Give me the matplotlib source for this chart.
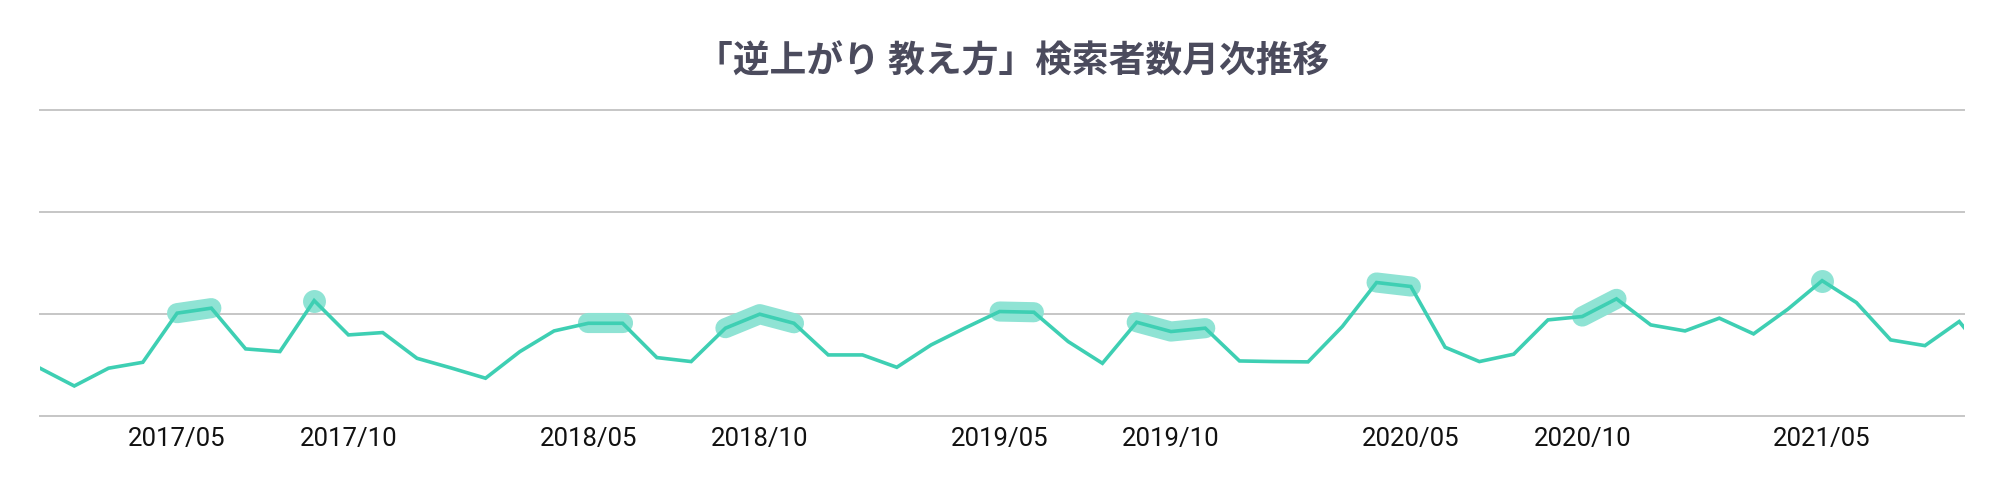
import numpy as np
import pandas as pd
import matplotlib
matplotlib.use('Agg')
import matplotlib.pyplot as plt

# monthly searcher counts (relative units), starting 2017/01
start_month = '2017-01'
values = [46.8, 29.4, 46.8, 52.6, 100.7, 105.6, 65.7, 63.1, 113.0, 79.4,
          81.7, 56.5, 47.0, 37.0, 63.0, 83.3, 90.8, 90.8, 57.2, 53.3,
          86.0, 99.7, 90.8, 59.8, 59.8, 47.7, 69.6, 86.3, 102.3, 101.6,
          72.9, 51.6, 91.8, 82.7, 86.0, 53.9, 53.3, 53.0, 87.6, 130.7,
          126.8, 67.3, 53.3, 60.5, 94.1, 97.4, 114.7, 89.2, 83.3, 95.8,
          80.4, 104.6, 132.5, 111.1, 74.5, 68.9, 92.5, 52.0]
shown_labels = ['2017/05', '2017/10', '2018/05', '2018/10', '2019/05',
                '2019/10', '2020/05', '2020/10', '2021/05']
# highlighted stretches (first month, last month)
highlights = [('2017/05', '2017/06'), ('2017/09', '2017/09'),
              ('2018/05', '2018/06'), ('2018/09', '2018/11'),
              ('2019/05', '2019/06'), ('2019/09', '2019/11'),
              ('2020/04', '2020/05'), ('2020/10', '2020/11'),
              ('2021/05', '2021/05')]
grid_levels = [0, 100, 200, 300]
title = '「逆上がり 教え方」検索者数月次推移'

months = pd.period_range(start_month, periods=len(values), freq='M').strftime('%Y/%m').tolist()
x = np.arange(len(values))
y = np.array(values)

line_color = '#3ecfb3'
hl_color = '#8fe3d4'

fig = plt.figure(figsize=(20, 4.78), dpi=100)
ax = fig.add_axes([0.02, 0.1297, 0.962, 0.641])

for gl in grid_levels:
    ax.axhline(gl, color='#c6c6c6', lw=1.4, zorder=0, clip_on=False)

for a, b in highlights:
    i0, i1 = months.index(a), months.index(b)
    if i0 == i1:
        ax.plot(x[i0], y[i0], 'o', ms=16.5, color=hl_color, mec='none', zorder=1)
    else:
        ax.plot(x[i0:i1 + 1], y[i0:i1 + 1], color=hl_color, lw=14.5,
                solid_capstyle='round', solid_joinstyle='round', zorder=1)

ax.plot(x, y, color=line_color, lw=2.6, solid_joinstyle='miter', zorder=2)

ax.set_xlim(0, 56.14)
ax.set_ylim(grid_levels[0], grid_levels[-1])
ax.set_yticks([])
ax.set_xticks([months.index(m) for m in shown_labels])
ax.set_xticklabels(shown_labels, fontsize=18.5, color='#111111',
                   family=['Roboto', 'DejaVu Sans'])
ax.tick_params(axis='x', length=0, pad=8)
for s in ax.spines.values():
    s.set_visible(False)

fig.text(0.5065, 0.871, title, ha='center', va='center', fontsize=26.5,
         color='#4b4b5d', weight='bold', family=['Noto Sans CJK JP', 'DejaVu Sans'])

fig.savefig('out.png', dpi=100)
